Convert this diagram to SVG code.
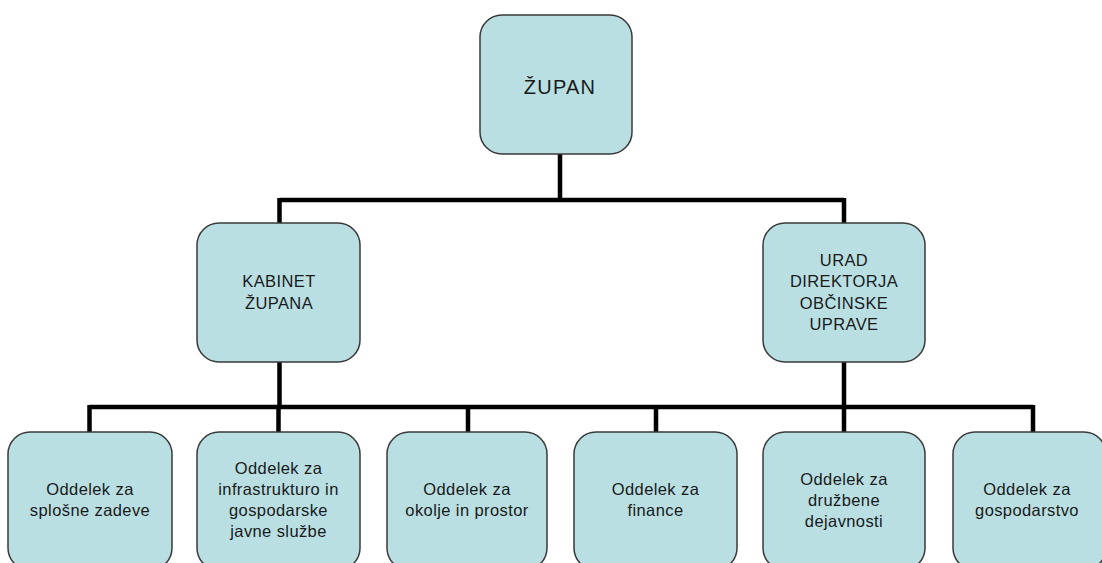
<svg xmlns="http://www.w3.org/2000/svg" width="1102" height="563" viewBox="0 0 1102 563">
<style>
.box{fill:#b9dfe3;stroke:#3a3a3a;stroke-width:1.5}
.conn{fill:none;stroke:#000;stroke-width:4.5;stroke-linecap:butt;stroke-linejoin:miter}
text{font-family:"Liberation Sans",Arial,sans-serif;font-size:16.5px;fill:#1a1a1a;text-anchor:middle;letter-spacing:0.4px}
.big{font-size:20px;letter-spacing:1.2px}
</style>
<rect width="1102" height="563" fill="#ffffff"/>
<g id="connectors">
<path class="conn" d="M560,154 V200 M279.5,200 H844 M279.5,198 V223 M844,198 V223"/>
<path class="conn" d="M279.5,362 V407 M844,362 V407 M89.5,407 H1033 M89.5,405 V432 M278.5,407 V432 M468,407 V432 M656,407 V432 M844,407 V432 M1033,405 V432"/>
</g>
<g id="zupan">
<rect class="box" x="480" y="15" width="152" height="139" rx="22"/>
<text class="big" x="560" y="94">ŽUPAN</text>
</g>
<g id="kabinet">
<rect class="box" x="197" y="223" width="163" height="139" rx="22"/>
<text x="279" y="287">KABINET</text>
<text x="279" y="309">ŽUPANA</text>
</g>
<g id="urad">
<rect class="box" x="763" y="223" width="162" height="139" rx="22"/>
<text x="844" y="266">URAD</text>
<text x="844" y="287">DIREKTORJA</text>
<text x="844" y="309">OBČINSKE</text>
<text x="844" y="330">UPRAVE</text>
</g>
<g id="splosne">
<rect class="box" x="8" y="432" width="164" height="138" rx="22"/>
<text x="90" y="495">Oddelek za</text>
<text x="90" y="516">splošne zadeve</text>
</g>
<g id="infrastruktura">
<rect class="box" x="197" y="432" width="163" height="138" rx="22"/>
<text x="278.5" y="474">Oddelek za</text>
<text x="278.5" y="495">infrastrukturo in</text>
<text x="278.5" y="516">gospodarske</text>
<text x="278.5" y="537">javne službe</text>
</g>
<g id="okolje">
<rect class="box" x="387" y="432" width="160" height="138" rx="22"/>
<text x="467" y="495">Oddelek za</text>
<text x="467" y="516">okolje in prostor</text>
</g>
<g id="finance">
<rect class="box" x="574" y="432" width="163" height="138" rx="22"/>
<text x="655.5" y="495">Oddelek za</text>
<text x="655.5" y="516">finance</text>
</g>
<g id="druzbene">
<rect class="box" x="763" y="432" width="162" height="138" rx="22"/>
<text x="844" y="485">Oddelek za</text>
<text x="844" y="506">družbene</text>
<text x="844" y="527">dejavnosti</text>
</g>
<g id="gospodarstvo">
<rect class="box" x="953" y="432" width="153" height="138" rx="22"/>
<text x="1027" y="495">Oddelek za</text>
<text x="1027" y="516">gospodarstvo</text>
</g>
</svg>
